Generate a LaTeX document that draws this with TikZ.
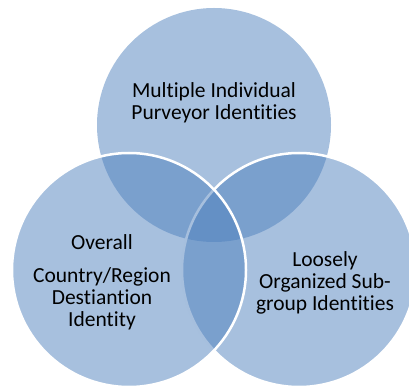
\documentclass[tikz,border=0pt]{standalone}
\usepackage{fontspec}
\setmainfont{Carlito}[Ligatures=NoCommon]
\definecolor{vennblue}{RGB}{79,129,189}
\tikzset{
	venn/.style={circle,minimum size=234pt,inner sep=0pt,fill=vennblue,fill opacity=0.5},
	rim/.style={draw=white,line width=2.5pt},
	vtext/.style={align=center,anchor=base,inner sep=0pt,text=black,font=\fontsize{21.5}{22}\selectfont}
}
\begin{document}
\begin{tikzpicture}[x=1pt,y=-1pt]
	\clip (0,0) rectangle (409,387);
	\node[venn] (purveyor) at (214,125){};
	\node[venn,rim] (subgroup) at (299,270){};
	\node[venn,rim] (country) at (129,270){};
	\node[vtext] (purveyortext) at (214,119.3){Multiple Individual\\Purveyor Identities};
	\node[vtext] (countrytext) at (102,326.7){Overall\\[11pt]Country/Region\\Destiantion\\Identity};
	\node[vtext] (subgrouptext) at (325,310){Loosely\\Organized Sub-\\group Identities};
\end{tikzpicture}
\end{document}
